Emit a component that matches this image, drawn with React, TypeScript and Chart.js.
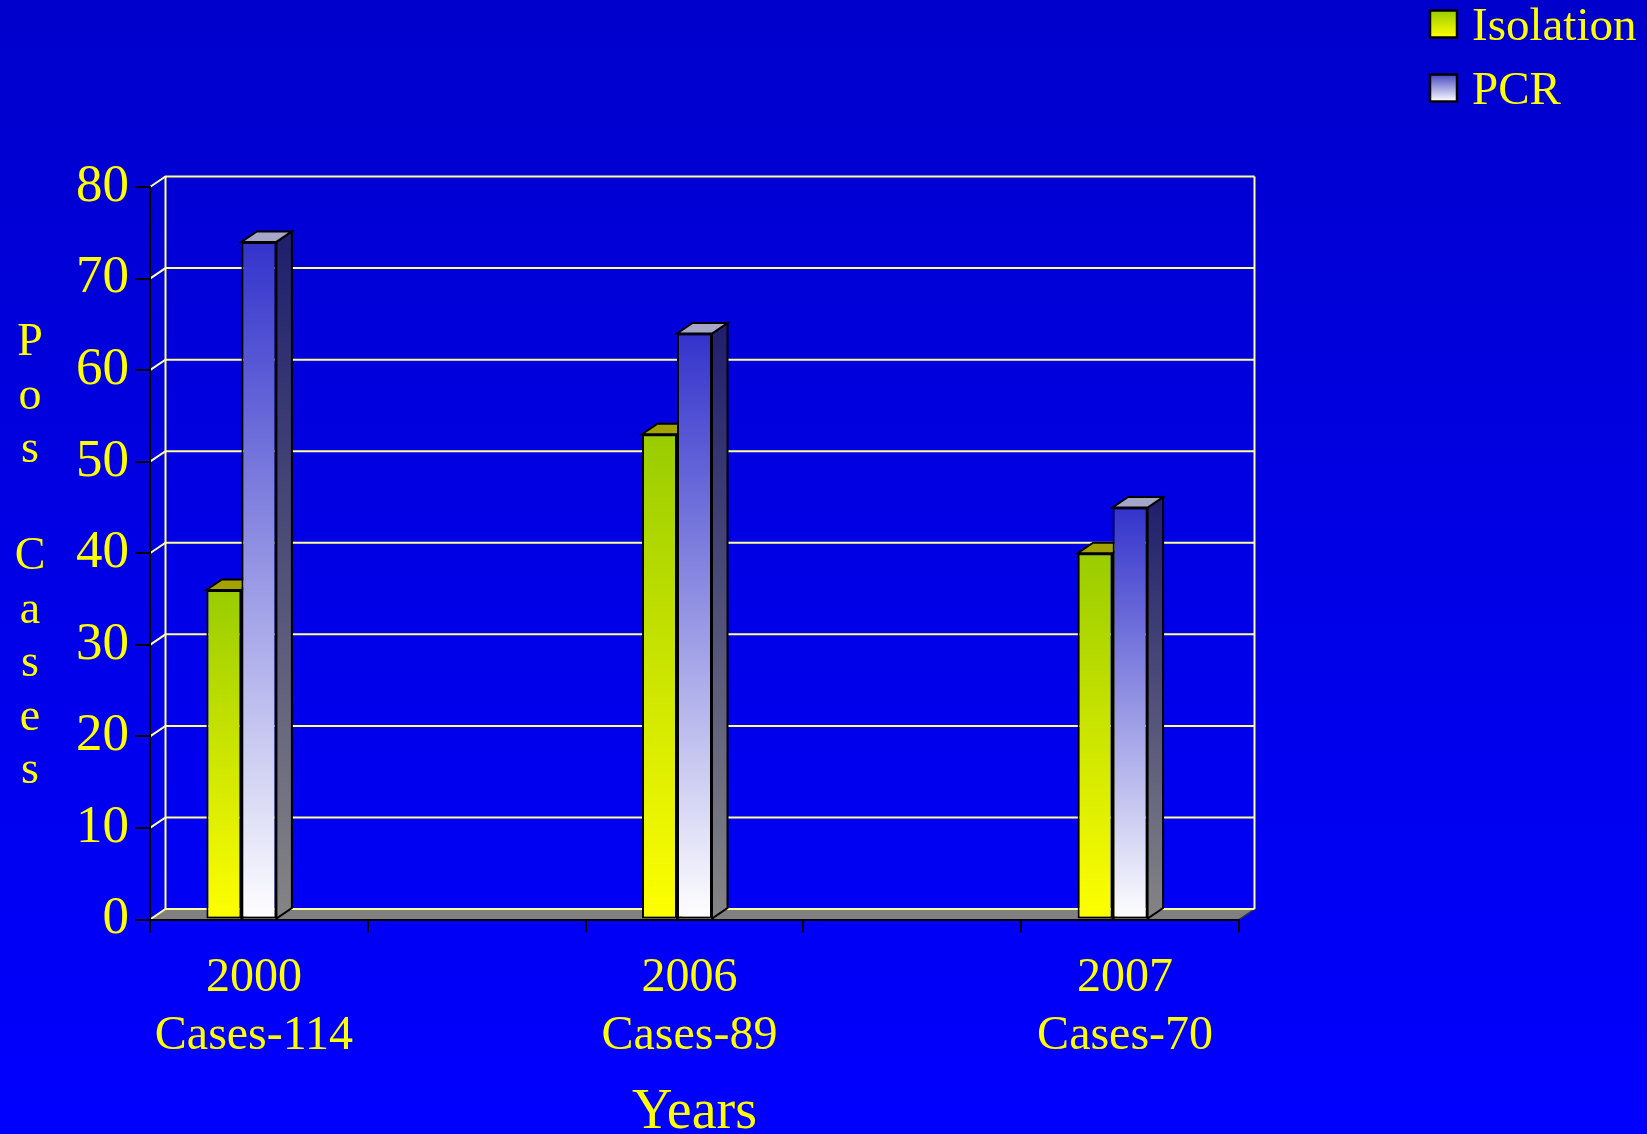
import { useEffect, useRef } from 'react';
import { Chart, registerables } from 'chart.js';

Chart.register(...registerables);

// Category axis: empty slots sit between the three survey years
const categories: (string | string[])[] = [
  ['2000', 'Cases-114'],
  '',
  ['2006', 'Cases-89'],
  '',
  ['2007', 'Cases-70'],
];
const isolation: (number | null)[] = [36, null, 53, null, 40];
const pcr: (number | null)[] = [74, null, 64, null, 45];
const seriesLabels = ['Isolation', 'PCR'];
const yTitleLetters = ['P', 'o', 's', '', 'C', 'a', 's', 'e', 's'];
const yMin = 0;
const yMax = 80;
const yStep = 10;

const W = 1647;
const H = 1134;
const SERIF = '"Liberation Serif", "Times New Roman", serif';
const YELLOW = '#FFFF00';
const WALL = '#FFFF99';
// depth offset of the back wall / bar extrusion
const DX = 15.5;
const DY = -10.5;

const seriesStyle = [
  { front: ['#99CC00', '#FFFF00'], top: '#A3A300', side: ['#5C6B00', '#808000'], key: ['#99CC00', '#FFFF00'] },
  { front: ['#3333CC', '#FFFFFF'], top: '#A6A6C8', side: ['#1E1E6E', '#858585'], key: ['#4848C4', '#FFFFFF'] },
];

const scene3d = {
  id: 'scene3d',
  beforeDraw(chart: any) {
    const { ctx, chartArea } = chart;
    const { left, right, top, bottom } = chartArea;
    const yS = chart.scales.y;

    // background
    const bg = ctx.createLinearGradient(0, 0, 0, H);
    bg.addColorStop(0, '#0000CC');
    bg.addColorStop(1, '#0000FF');
    ctx.save();
    ctx.fillStyle = bg;
    ctx.fillRect(0, 0, W, H);

    // floor
    ctx.beginPath();
    ctx.moveTo(left, bottom);
    ctx.lineTo(right, bottom);
    ctx.lineTo(right + DX, bottom + DY);
    ctx.lineTo(left + DX, bottom + DY);
    ctx.closePath();
    ctx.fillStyle = '#808080';
    ctx.fill();
    ctx.beginPath();
    ctx.moveTo(right, bottom);
    ctx.lineTo(right + DX, bottom + DY);
    ctx.strokeStyle = '#3A3A3A';
    ctx.lineWidth = 1.5;
    ctx.stroke();

    // back wall grid
    ctx.strokeStyle = WALL;
    ctx.lineWidth = 2;
    ctx.lineJoin = 'miter';
    for (const t of yS.ticks) {
      const py = yS.getPixelForValue(t.value);
      ctx.beginPath();
      ctx.moveTo(left, py);
      ctx.lineTo(left + DX, py + DY);
      ctx.lineTo(right + DX, py + DY);
      ctx.stroke();
    }
    ctx.beginPath();
    ctx.moveTo(left + DX, top + DY);
    ctx.lineTo(left + DX, bottom + DY);
    ctx.moveTo(right + DX, top + DY);
    ctx.lineTo(right + DX, bottom + DY);
    ctx.stroke();
    ctx.restore();
  },
  afterDatasetsUpdate(chart: any) {
    // the cluster sits half a bar left of the slot centre, leaving room for the depth
    chart.data.datasets.forEach((_: any, di: number) => {
      const meta = chart.getDatasetMeta(di);
      meta.data.forEach((el: any) => {
        el.x -= el.width / 2;
      });
    });
  },
  beforeDatasetsDraw(chart: any) {
    const { ctx } = chart;
    ctx.save();
    ctx.lineWidth = 2;
    ctx.strokeStyle = '#000';
    ctx.lineJoin = 'miter';
    chart.data.datasets.forEach((ds: any, di: number) => {
      const meta = chart.getDatasetMeta(di);
      const st = seriesStyle[di];
      meta.data.forEach((el: any, i: number) => {
        if (ds.data[i] == null) return;
        const { x, y, base, width } = el.getProps(['x', 'y', 'base', 'width'], true);
        const l = x - width / 2;
        const r = x + width / 2;
        // side face
        const sg = ctx.createLinearGradient(0, y + DY, 0, base);
        sg.addColorStop(0, st.side[0]);
        sg.addColorStop(1, st.side[1]);
        ctx.beginPath();
        ctx.moveTo(r, y);
        ctx.lineTo(r + DX, y + DY);
        ctx.lineTo(r + DX, base + DY);
        ctx.lineTo(r, base);
        ctx.closePath();
        ctx.fillStyle = sg;
        ctx.fill();
        ctx.stroke();
        // top face
        ctx.beginPath();
        ctx.moveTo(l, y);
        ctx.lineTo(r, y);
        ctx.lineTo(r + DX, y + DY);
        ctx.lineTo(l + DX, y + DY);
        ctx.closePath();
        ctx.fillStyle = st.top;
        ctx.fill();
        ctx.stroke();
      });
    });
    ctx.restore();
  },
  afterDraw(chart: any) {
    const { ctx, chartArea } = chart;
    ctx.save();

    // legend
    ctx.font = `47px ${SERIF}`;
    ctx.textAlign = 'left';
    ctx.textBaseline = 'middle';
    seriesLabels.forEach((label, i) => {
      const sx = 1430;
      const sy = 10.5 + i * 64;
      const size = 27;
      const g = ctx.createLinearGradient(0, sy, 0, sy + size);
      g.addColorStop(0, seriesStyle[i].key[0]);
      g.addColorStop(1, seriesStyle[i].key[1]);
      ctx.fillStyle = g;
      ctx.fillRect(sx, sy, size, size);
      ctx.lineWidth = 2.5;
      ctx.strokeStyle = '#000';
      ctx.strokeRect(sx, sy, size, size);
      ctx.fillStyle = YELLOW;
      ctx.fillText(label, 1472, sy + size / 2 + 4);
    });

    // stacked y-axis title
    ctx.font = `46px ${SERIF}`;
    ctx.textAlign = 'center';
    ctx.textBaseline = 'alphabetic';
    ctx.fillStyle = YELLOW;
    const cy = (chartArea.top + chartArea.bottom) / 2 + 16;
    const step = 53.5;
    const mid = (yTitleLetters.length - 1) / 2;
    yTitleLetters.forEach((ch, i) => {
      if (ch) ctx.fillText(ch, 30, cy + (i - mid) * step);
    });
    ctx.restore();
  },
};

export default function App() {
  const ref = useRef<HTMLCanvasElement>(null);

  useEffect(() => {
    const canvas = ref.current;
    if (!canvas) return;

    const barFill = (s: number) => (c: any) => {
      const chart = c.chart;
      const yS = chart.scales && chart.scales.y;
      const v = c.raw;
      if (!chart.chartArea || !yS || v == null) return seriesStyle[s].front[0];
      const t = yS.getPixelForValue(v);
      const b = yS.getPixelForValue(0);
      const g = chart.ctx.createLinearGradient(0, t, 0, b);
      g.addColorStop(0, seriesStyle[s].front[0]);
      g.addColorStop(1, seriesStyle[s].front[1]);
      return g;
    };

    const chart = new Chart(canvas, {
      type: 'bar',
      data: {
        labels: categories,
        datasets: [
          {
            label: seriesLabels[0],
            data: isolation,
            backgroundColor: barFill(0),
            borderColor: '#000',
            borderWidth: 2,
            borderSkipped: false,
          },
          {
            label: seriesLabels[1],
            data: pcr,
            backgroundColor: barFill(1),
            borderColor: '#000',
            borderWidth: 2,
            borderSkipped: false,
          },
        ],
      },
      options: {
        animation: false,
        responsive: false,
        datasets: { bar: { categoryPercentage: 0.3214, barPercentage: 1 } },
        layout: { padding: { top: 187, right: 408, left: 0, bottom: 0 } },
        plugins: {
          legend: { display: false },
          tooltip: { enabled: false },
          title: { display: false },
        },
        scales: {
          x: {
            offset: true,
            grid: {
              offset: true,
              drawOnChartArea: false,
              drawTicks: true,
              tickLength: 13,
              color: '#000',
              lineWidth: 2,
            },
            border: { display: true, color: '#000', width: 2 },
            ticks: {
              color: YELLOW,
              font: { family: SERIF, size: 48, lineHeight: 1.2 },
              padding: 17,
              labelOffset: -5,
              maxRotation: 0,
              minRotation: 0,
              autoSkip: false,
            },
            title: {
              display: true,
              text: 'Years',
              color: YELLOW,
              font: { family: SERIF, size: 56, lineHeight: 0.75 },
              padding: 0,
            },
            afterFit: (s: any) => {
              s.height = 214.5;
            },
          },
          y: {
            min: yMin,
            max: yMax,
            grid: {
              drawOnChartArea: false,
              drawTicks: true,
              tickLength: 15,
              color: '#000',
              lineWidth: 2,
            },
            border: { display: true, color: '#000', width: 2 },
            ticks: {
              stepSize: yStep,
              color: YELLOW,
              font: { family: SERIF, size: 53 },
              padding: 6,
            },
            afterFit: (s: any) => {
              s.width = 150;
            },
          },
        },
      },
      plugins: [scene3d],
    } as any);

    return () => chart.destroy();
  }, []);

  return (
    <div style={{ position: 'absolute', left: 0, top: 0, width: W, height: H }}>
      <canvas ref={ref} width={W} height={H} style={{ display: 'block' }} />
    </div>
  );
}
